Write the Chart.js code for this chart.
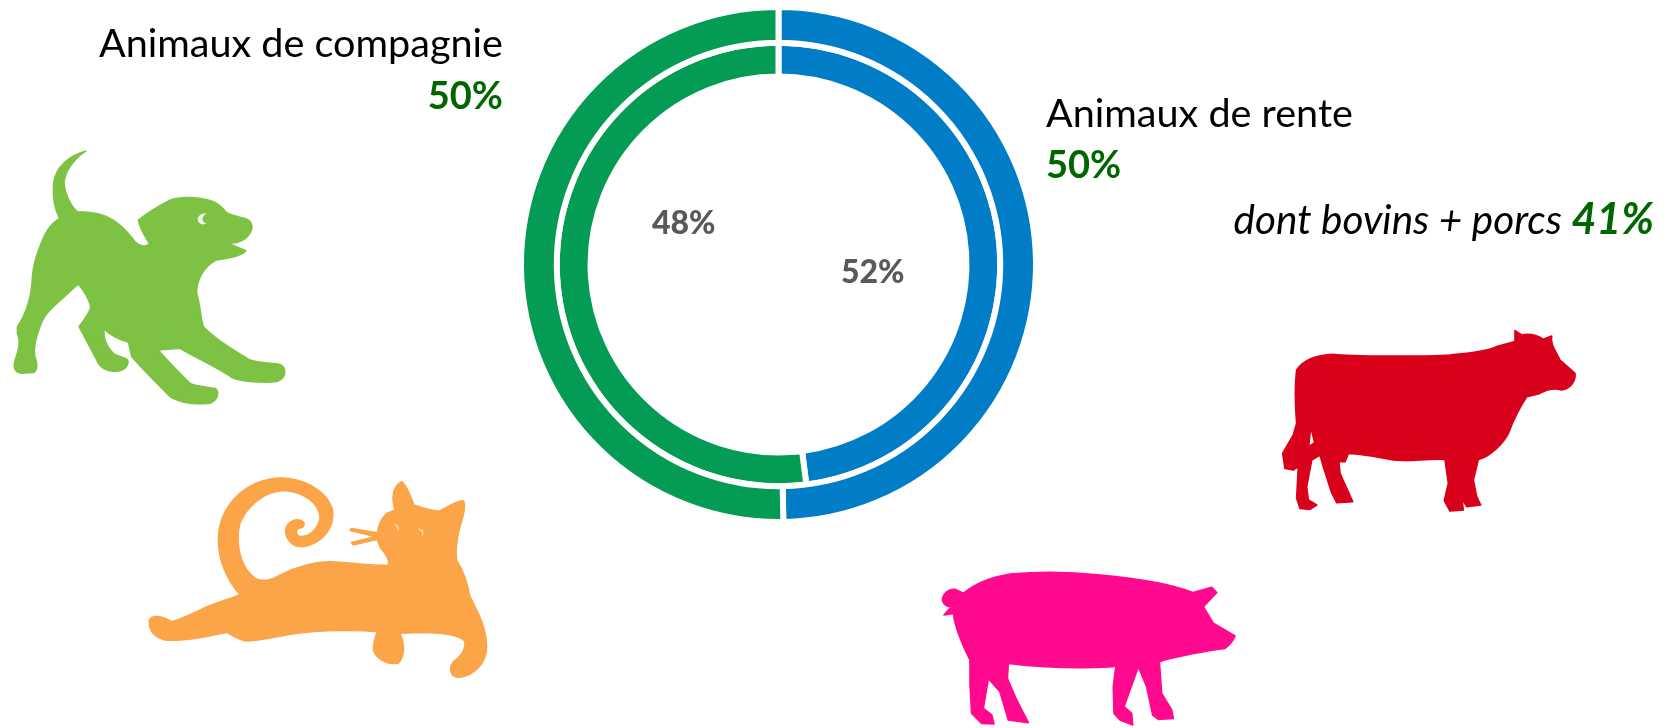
<!DOCTYPE html>
<html lang="fr">
<head>
<meta charset="utf-8">
<title>Animaux de rente et de compagnie</title>
<script src="https://cdn.jsdelivr.net/npm/chart.js@4"></script>
<style>
  html, body { margin: 0; padding: 0; background: #fff; }
  #zone { position: relative; width: 1673px; height: 728px; overflow: hidden; font-family: Lato, sans-serif; }
  canvas { position: absolute; left: 0; top: 0; }
  .txt { position: absolute; white-space: nowrap; line-height: 1; font-size: 39.6px; color: #000; }
  .pct { font-weight: 700; color: #006600; font-size: 38px; }
  .ital { font-size: 40.5px; }
  .ital .pct { font-size: 43px; }
  .gris { font-weight: 900; color: #595959; font-size: 32px; }
</style>
</head>
<body>
<div id="zone">
  <canvas id="graph" width="1673" height="728"></canvas>
</div>
<script>
// Valeurs
const categories = ['Animaux de rente', 'Animaux de compagnie'];
const anneauExterieur = [49.7, 50.3];
const anneauInterieur = [48, 52];
const couleurs = ['#007DC6', '#049B54'];

// Textes : position du haut de la boite
const textes = [
  { html: 'Animaux de compagnie', right: 1170, top: 22 },
  { html: '50%', cls: 'pct', right: 1170, top: 75 },
  { html: 'Animaux de rente', left: 1046, top: 92 },
  { html: '50%', cls: 'pct', left: 1046, top: 144 },
  { html: '<i>dont bovins + porcs <span class="pct">41%</span></i>', cls: 'ital', right: 19, top: 196 },
  { html: '48%', cls: 'gris', left: 652, top: 206 },
  { html: '52%', cls: 'gris', left: 841, top: 255 }
];

// Silhouettes tracées à la main, coordonnées du zoom (x3)
const silhouettes = [
  { couleur: '#7DC242', trait: 4, x: 0, y: 130, d: 'M258,63 C215,75 165,105 160,165 C158,205 165,240 178,265 C150,285 140,300 125,335 C110,375 100,400 97,440 C95,490 85,540 52,590 L52,610 C60,630 60,650 45,690 C38,715 45,728 65,730 L100,728 C115,720 112,700 105,680 C100,660 105,630 120,590 C130,560 145,545 160,530 L235,462 C250,480 265,500 272,530 C270,550 250,570 237,590 L290,690 C300,715 320,725 350,724 C375,722 388,705 383,690 C375,680 350,680 340,670 C320,650 310,625 312,597 C330,615 360,632 385,636 L395,680 C420,710 470,760 510,800 C540,820 590,825 630,820 C655,810 660,785 645,775 C620,770 590,770 570,760 C540,730 500,690 475,660 L540,655 C580,680 650,710 700,745 C730,755 790,760 830,755 C860,745 862,715 840,703 C810,698 780,700 750,690 C700,660 650,630 610,590 C600,550 600,520 590,490 C590,450 610,410 650,390 C690,385 730,375 738,362 L685,340 C720,340 745,325 755,300 C760,280 750,270 735,265 C710,258 690,255 680,248 C665,230 655,220 640,215 C600,200 540,198 510,210 C480,225 440,250 415,270 C418,295 435,320 448,340 C440,352 420,350 405,335 C380,300 340,260 290,250 C265,245 245,245 232,245 C210,225 195,190 192,160 C195,120 225,85 258,63 Z' },
  { couleur: '#EAF6DF', trait: 0, x: 0, y: 130, d: 'M620,250 C600,248 590,262 594,274 C598,284 612,286 620,280 C610,278 604,268 610,260 C612,256 616,253 620,250 Z' },
  { couleur: '#FBA448', trait: 4, x: 140, y: 460, d: 'M300,405 C260,360 235,300 235,240 C235,150 300,70 400,55 C480,45 560,90 578,150 C585,200 550,250 490,260 C455,262 435,235 437,210 C440,185 470,170 490,185 C497,195 490,205 478,205 C470,205 465,215 475,228 C500,235 530,215 540,175 C540,130 490,95 430,92 C370,95 320,140 300,190 C285,250 300,320 345,355 C365,365 395,362 420,345 C470,320 520,305 570,305 C620,305 700,320 745,315 C748,295 735,280 722,265 L712,240 L703,240 L640,255 L634,247 L705,230 L630,212 L633,205 L712,218 C715,195 725,175 740,160 L765,150 C755,120 755,80 785,65 C800,75 812,110 822,135 C850,145 880,155 900,152 C925,140 955,120 970,122 C980,135 970,170 960,200 C950,240 945,270 950,300 C975,340 985,380 990,410 C1010,450 1040,500 1040,560 C1040,610 1000,650 955,652 C930,650 925,625 940,605 C960,590 975,575 975,545 C960,525 900,518 840,518 L780,520 C795,550 795,590 775,610 C745,615 710,600 700,570 C700,550 705,530 712,515 C650,510 550,510 470,520 C420,528 370,540 320,543 C295,540 275,525 262,517 C200,530 130,545 75,540 C40,530 25,510 28,480 C35,465 65,465 95,485 C130,475 160,460 190,445 C220,430 270,415 300,405 Z' },
  { couleur: '#FCD9A8', trait: 0, x: 140, y: 460, d: 'M760,192 C775,190 782,205 772,218 C774,205 770,198 760,192 Z M832,206 C848,202 856,218 846,232 C848,218 844,212 832,206 Z' },
  { couleur: '#D9001B', trait: 5, x: 1260, y: 310, d: 'M110,180 C130,150 170,135 220,133 C270,140 500,140 570,135 C620,130 680,125 710,110 L765,95 L765,62 L785,75 C810,70 830,75 850,88 L875,78 C870,100 885,120 900,150 L945,190 C948,215 930,235 905,240 C880,232 860,240 835,252 L800,260 C780,290 760,330 745,370 C730,400 690,440 655,448 L640,510 L650,560 L662,585 L620,590 L605,565 L610,600 L570,603 L553,572 L565,520 L555,448 C500,445 450,455 400,450 C350,440 300,430 265,430 L255,455 L240,455 L235,440 L240,490 L278,575 L230,578 L215,548 L190,470 L180,435 L155,450 L140,530 L145,570 L170,585 L150,598 L120,595 L110,565 L115,470 L100,480 L75,475 L68,430 L100,375 L110,340 C105,280 105,220 110,180 Z M152,350 L146,410 L164,398 Z' },
  { couleur: '#FF0A8E', trait: 5, x: 920, y: 550, d: 'M130,130 L105,118 C85,115 65,135 68,152 C72,165 85,170 95,170 L72,195 L100,190 C105,230 125,280 150,330 L150,400 L155,490 L185,520 L222,522 L215,495 L190,475 L205,385 L240,425 L265,510 L325,518 L290,450 L262,385 L265,340 C350,350 450,358 580,350 L588,345 L580,410 L582,490 L600,510 L638,525 L635,490 L612,470 L655,350 L680,410 L698,495 L715,508 L760,505 L755,480 L725,430 L718,335 C780,315 850,305 915,295 C930,285 940,270 945,258 L880,220 L850,170 L890,128 L875,112 L820,128 C750,100 650,85 540,75 C450,65 350,65 270,72 C210,82 160,105 130,130 Z' }
];

// Dessine les animaux sous le graphique
const pluginAnimaux = {
  id: 'animaux',
  beforeDraw(chart) {
    const ctx = chart.ctx;
    silhouettes.forEach(s => {
      const forme = new Path2D(s.d);
      ctx.save();
      ctx.translate(s.x, s.y);
      ctx.scale(1 / 3, 1 / 3);
      ctx.fillStyle = s.couleur;
      ctx.fill(forme, 'evenodd');
      if (s.trait) {
        ctx.strokeStyle = s.couleur;
        ctx.lineWidth = s.trait;
        ctx.lineJoin = 'round';
        ctx.stroke(forme);
      }
      ctx.restore();
    });
  }
};

new Chart(document.getElementById('graph'), {
  type: 'doughnut',
  data: {
    labels: categories,
    datasets: [
      { data: anneauExterieur, backgroundColor: couleurs, weight: 35.75 },
      { data: anneauInterieur, backgroundColor: couleurs, weight: 33.75 }
    ]
  },
  options: {
    responsive: false,
    animation: false,
    cutout: '73%',
    elements: { arc: { borderWidth: 6, borderColor: '#fff' } },
    layout: { padding: { left: 518, right: 634, top: 4, bottom: 203 } },
    plugins: { legend: { display: false }, tooltip: { enabled: false } }
  },
  plugins: [pluginAnimaux]
});

// Place les textes
const zone = document.getElementById('zone');
textes.forEach(t => {
  const el = document.createElement('div');
  el.className = 'txt ' + (t.cls || '');
  el.innerHTML = t.html;
  if (t.left !== undefined) el.style.left = t.left + 'px';
  if (t.right !== undefined) el.style.right = t.right + 'px';
  el.style.top = t.top + 'px';
  zone.appendChild(el);
});
</script>
</body>
</html>
